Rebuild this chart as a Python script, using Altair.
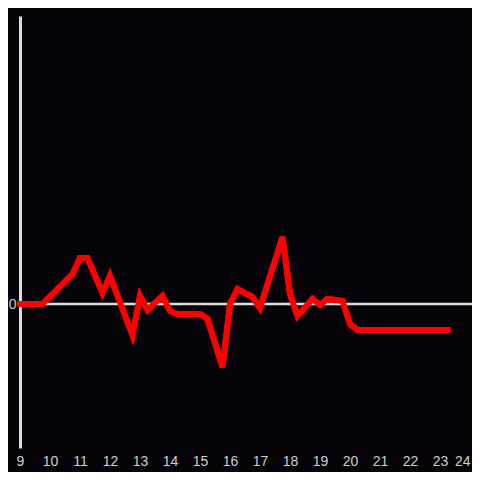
import altair as alt
import pandas as pd

hours = [9, 9.25, 9.5, 9.75, 10.75, 11, 11.25, 11.75, 12, 12.75, 13, 13.25, 13.75, 14, 14.25,
         15, 15.25, 15.75, 16, 16.25, 16.75, 17, 17.75, 18, 18.25, 18.75, 19, 19.25, 19.5,
         19.75, 20, 20.25, 23.25]
values = [0, 0, 0, 0, 30, 46, 46, 11, 28, -31, 8, -6, 8, -7, -10,
          -10, -15, -63, 0, 15, 7, -4, 67, 10, -12, 5, -1, 5, 4,
          3, -20, -26, -26]
x_ticks = list(range(9, 25))
y_ticks = [0]

df = pd.DataFrame({"h": hours, "v": values})
zero_df = pd.DataFrame({"z": [0]})

LABEL = "#cfcfcf"
AXIS = "#dddddd"
BG = "#050308"

W = 452
x_enc = alt.X("h:Q",
              scale=alt.Scale(domain=[9, 9 + W / 30], nice=False, zero=False),
              axis=alt.Axis(values=x_ticks, domain=False, ticks=False, grid=False,
                            labelColor=LABEL, labelFontSize=14, labelPadding=6,
                            labelAlign=alt.expr("datum.value == 24 ? 'right' : 'center'"),
                            labelFont="Liberation Sans", labelFlush=False, title=None))
y_enc = alt.Y("v:Q",
              scale=alt.Scale(domain=[-144, 288], nice=False, zero=False),
              axis=alt.Axis(values=y_ticks, domain=True, domainColor=AXIS, domainWidth=3,
                            ticks=False, grid=False, labelColor=LABEL, labelFontSize=14,
                            labelPadding=4, labelFont="Liberation Sans", title=None))

zero = alt.Chart(zero_df).mark_rule(color=AXIS, strokeWidth=2.5).encode(y=alt.Y("z:Q"))
line = alt.Chart(df).mark_line(color="#ff0000", strokeWidth=6, strokeCap="square").encode(
    x=x_enc, y=y_enc)

chart = alt.layer(line, zero, line).properties(
    width=W, height=432,
    autosize=alt.AutoSizeParams(type="none"),
    padding={"left": 12, "top": 8, "right": 0, "bottom": 24},
    background=BG,
).configure_view(stroke=None)

chart.save("out.html", embed_options={"renderer": "svg", "actions": False})
